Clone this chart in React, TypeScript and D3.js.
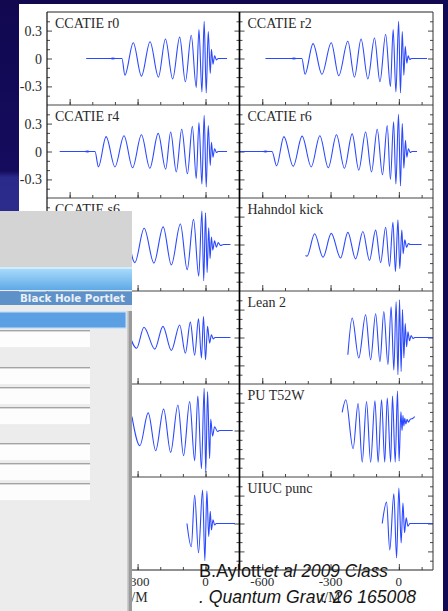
import React, { useEffect, useRef } from 'react';
import * as d3 from 'd3';

type Pt = [number, number];

// waveform extrema: [t/M, strain]
const ccatieR0: Pt[] = [[-527, 0], [-369, 0], [-356, -0.18], [-319, 0.17], [-283, -0.19], [-245, 0.18], [-208, -0.2], [-177, 0.21], [-145, -0.22], [-114, 0.23], [-89, -0.25], [-63, 0.25], [-41, -0.31], [-29, 0.31], [-16, -0.36], [-6, 0.4], [3, -0.37], [12, 0.29], [21, -0.16], [26, 0.1], [33, -0.06], [40, 0.03], [48, -0.015], [56, 0], [95, 0]];
const ccatieR2: Pt[] = [[-586, 0], [-426, 0], [-412, -0.17], [-377, 0.16], [-338, -0.17], [-297, 0.17], [-264, -0.185], [-224, 0.185], [-195, -0.2], [-166, 0.21], [-136, -0.22], [-107, 0.22], [-83, -0.25], [-58, 0.26], [-37, -0.3], [-25, 0.31], [-13, -0.36], [-1, 0.4], [7, -0.37], [15, 0.29], [22, -0.18], [28, 0.13], [35, -0.05], [41, 0.03], [48, -0.01], [56, 0], [124, 0]];
const ccatieR4: Pt[] = [[-644, 0], [-488, 0], [-473, -0.165], [-439, 0.16], [-400, -0.165], [-360, 0.17], [-322, -0.175], [-283, 0.18], [-246, -0.18], [-209, 0.195], [-176, -0.19], [-154, 0.21], [-129, -0.22], [-105, 0.24], [-80, -0.24], [-58, 0.27], [-41, -0.29], [-29, 0.31], [-16, -0.35], [-6, 0.39], [3, -0.38], [12, 0.28], [21, -0.15], [26, 0.1], [33, -0.06], [40, 0.03], [48, -0.01], [56, 0], [95, 0]];
const ccatieR6: Pt[] = [[-700, 0], [-557, 0], [-537, -0.155], [-505, 0.16], [-464, -0.16], [-425, 0.165], [-385, -0.165], [-347, 0.17], [-310, -0.175], [-274, 0.18], [-239, -0.18], [-205, 0.19], [-176, -0.2], [-146, 0.21], [-120, -0.22], [-95, 0.24], [-72, -0.25], [-51, 0.28], [-37, -0.3], [-23, 0.32], [-13, -0.35], [-1.5, 0.4], [7, -0.37], [15, 0.3], [22, -0.18], [29, 0.12], [35, -0.06], [42, 0.03], [50, -0.01], [58, 0], [80, 0]];
const ccatieS6: Pt[] = [[-345, 0.16], [-312, -0.195], [-271, 0.175], [-228, -0.2], [-187, 0.19], [-151, -0.22], [-111, 0.22], [-81, -0.27], [-53, 0.27], [-30, -0.34], [-16, 0.36], [-8, -0.39], [0, 0.34], [7, -0.3], [14, 0.18], [20, -0.15], [26, 0.08], [32, -0.06], [40, 0.04], [48, -0.03], [56, 0.02], [66, -0.01], [80, 0], [110, 0]];
const hahndolKick: Pt[] = [[-410, -0.118], [-403, -0.125], [-370, 0.115], [-333, -0.137], [-297, 0.12], [-256, -0.145], [-224, 0.13], [-190, -0.155], [-158, 0.14], [-129, -0.17], [-102, 0.155], [-80, -0.195], [-58, 0.185], [-41, -0.235], [-26, 0.24], [-15, -0.29], [-4, 0.265], [4, -0.26], [13, 0.155], [19, -0.1], [26, 0.05], [34, -0.03], [42, 0.01], [50, 0], [100, 0]];
const row4Left: Pt[] = [[-345, 0.1], [-304, -0.115], [-272, 0.11], [-224, -0.125], [-188, 0.12], [-151, -0.14], [-114, 0.135], [-89, -0.17], [-67, 0.165], [-48, -0.19], [-31, 0.2], [-18, -0.22], [-9, 0.225], [0, -0.24], [9, 0.12], [18, -0.06], [26, 0.03], [34, -0.015], [42, 0], [110, 0]];
const lean2: Pt[] = [[-224, -0.186], [-205, 0.21], [-176, -0.22], [-146, 0.245], [-124, -0.24], [-102, 0.255], [-83, -0.26], [-66, 0.28], [-48, -0.29], [-34, 0.33], [-22, -0.35], [-12, 0.385], [-4, -0.4], [3, 0.405], [10, -0.365], [16, 0.3], [22, -0.22], [28, 0.15], [34, -0.1], [40, 0.06], [47, -0.035], [54, 0.02], [62, -0.01], [70, 0], [150, 0]];
const row5Left: Pt[] = [[-325, 0.15], [-290, -0.163], [-253, 0.19], [-220, -0.217], [-185, 0.23], [-154, -0.235], [-122, 0.275], [-97, -0.27], [-70, 0.31], [-48, -0.325], [-34, 0.37], [-18, -0.41], [-6, 0.455], [1, -0.45], [9, 0.42], [18, -0.3], [23, 0.12], [31, -0.06], [40, 0.04], [53, -0.01], [62, 0], [120, 0]];
const puT52W: Pt[] = [[-249, 0.195], [-233, 0.33], [-201, -0.195], [-179, 0.29], [-161, -0.34], [-142, 0.31], [-124, -0.34], [-105, 0.32], [-91, -0.34], [-76, 0.33], [-62, -0.34], [-51, 0.35], [-36, -0.34], [-28, 0.37], [-16, -0.34], [-6, 0.425], [1, -0.33], [9, 0.2], [14, 0.0], [18, 0.16], [22, 0.05], [26, 0.13], [31, 0.07], [36, 0.12], [42, 0.09], [50, 0.12], [60, 0.13], [70, 0.15]];
const row6Left: Pt[] = [[-82, 0], [-63, -0.25], [-48, 0.305], [-31, -0.315], [-13, 0.36], [-3, -0.4], [6, 0.35], [14, -0.14], [21, 0.13], [26, -0.07], [33, 0.04], [40, -0.015], [48, 0], [130, 0]];
const uiucPunc: Pt[] = [[-73, 0], [-54, 0.23], [-40, -0.285], [-22, 0.32], [-10, -0.37], [0, 0.38], [10, -0.21], [18, 0.22], [25, -0.1], [32, 0.06], [40, -0.03], [48, 0], [150, 0]];

const waves = [ccatieR0, ccatieR2, ccatieR4, ccatieR6, ccatieS6, hahndolKick, row4Left, lean2, row5Left, puT52W, row6Left, uiucPunc];
const panelNames = ['CCATIE r0', 'CCATIE r2', 'CCATIE r4', 'CCATIE r6', 'CCATIE s6', 'Hahndol kick', '', 'Lean 2', '', 'PU T52W', '', 'UIUC punc'];
const junkT = [-409, -461, -522, -586];

const xMinor = [-600, -500, -400, -300, -200, -100, 0, 100];
const xMajor = [-600, -300, 0];
const xLabels = ['-600', '-300', '0'];
const yMinor = [-0.4, -0.2, -0.1, 0.1, 0.2, 0.4];
const yMajor = [-0.3, 0, 0.3];
const yLabels = ['-0.3', '0', '0.3'];

const serif = '"Liberation Serif", "Times New Roman", serif';

export default function App() {
  const ref = useRef<SVGSVGElement>(null);

  useEffect(() => {
    const svg = d3.select(ref.current);
    svg.selectAll('*').remove();

    const left = 47, mid = 239.5, right = 433, top = 12, rowH = 93;

    const defs = svg.append('defs');
    const bg = defs.append('linearGradient').attr('id', 'bg').attr('x1', 0).attr('y1', 0).attr('x2', 0).attr('y2', 1);
    bg.append('stop').attr('offset', 0).attr('stop-color', '#110850');
    bg.append('stop').attr('offset', 0.28).attr('stop-color', '#150c5e');
    bg.append('stop').attr('offset', 0.29).attr('stop-color', '#2a2a8a');
    bg.append('stop').attr('offset', 1).attr('stop-color', '#3a3fa0');
    const bar = defs.append('linearGradient').attr('id', 'bar').attr('x1', 0).attr('y1', 0).attr('x2', 0).attr('y2', 1);
    bar.append('stop').attr('offset', 0).attr('stop-color', '#a6dafb');
    bar.append('stop').attr('offset', 1).attr('stop-color', '#5fa9e6');

    // slide background + white figure
    svg.append('rect').attr('width', 448).attr('height', 611).attr('fill', 'url(#bg)');
    svg.append('rect').attr('x', 440).attr('width', 8).attr('height', 611).attr('fill', '#120a55');
    svg.append('rect').attr('x', 19).attr('y', 4).attr('width', 424).attr('height', 607).attr('fill', '#fff');

    waves.forEach((wave, i) => {
      const r = Math.floor(i / 2), c = i % 2;
      const x = d3.scaleLinear().domain([-700, 150]).range(c ? [mid, right] : [left, mid]);
      const y = d3.scaleLinear().domain([-0.5, 0.5]).range([top + rowH * (r + 1), top + rowH * r]);
      const g = svg.append('g');

      defs.append('clipPath').attr('id', `clip${i}`)
        .append('rect').attr('x', x(-700)).attr('y', y(0.5)).attr('width', x(150) - x(-700)).attr('height', y(-0.5) - y(0.5));

      // ticks pointing inward
      const tickStyle = (sel: any) => {
        sel.select('.domain').remove();
        sel.selectAll('line').attr('stroke', '#333').attr('stroke-width', 0.9);
      };
      g.append('g').attr('transform', `translate(0,${y(-0.5)})`)
        .call(d3.axisTop(x).tickValues(xMinor).tickSize(3).tickFormat(() => '')).call(tickStyle);
      g.append('g').attr('transform', `translate(0,${y(-0.5)})`)
        .call(d3.axisTop(x).tickValues(xMajor).tickSize(6).tickFormat(() => '')).call(tickStyle);
      g.append('g').attr('transform', `translate(${x(-700)},0)`)
        .call(d3.axisRight(y).tickValues(yMinor).tickSize(3).tickFormat(() => '')).call(tickStyle);
      g.append('g').attr('transform', `translate(${x(-700)},0)`)
        .call(d3.axisRight(y).tickValues(yMajor).tickSize(5).tickFormat(() => '')).call(tickStyle);
      g.append('g').attr('transform', `translate(${x(150)},0)`)
        .call(d3.axisLeft(y).tickValues(yMinor).tickSize(3).tickFormat(() => '')).call(tickStyle);
      g.append('g').attr('transform', `translate(${x(150)},0)`)
        .call(d3.axisLeft(y).tickValues(yMajor).tickSize(5).tickFormat(() => '')).call(tickStyle);

      const line = d3.line<Pt>().x(d => x(d[0])).y(d => y(d[1])).curve(d3.curveMonotoneX);
      g.append('path').datum(wave).attr('d', line).attr('clip-path', `url(#clip${i})`)
        .attr('fill', 'none').attr('stroke', '#2a48ff').attr('stroke-width', 1.1).attr('stroke-linejoin', 'round');

      if (i < junkT.length) {
        g.append('ellipse').attr('cx', x(junkT[i])).attr('cy', y(0)).attr('rx', 2.2).attr('ry', 1.1).attr('fill', '#2a48ff');
      }

      if (panelNames[i]) {
        g.append('text').attr('x', x(-700) + 8).attr('y', y(0.5) + 16).text(panelNames[i])
          .attr('font-family', serif).attr('font-size', 14).attr('fill', '#2a2a2a');
      }

      if (c === 0) {
        yMajor.forEach((v, k) => {
          g.append('text').attr('x', 42).attr('y', y(v) + 5).attr('text-anchor', 'end').text(yLabels[k])
            .attr('font-family', serif).attr('font-size', 14).attr('fill', '#2a2a2a');
        });
      }

      if (r === 5) {
        xMajor.forEach((v, k) => {
          g.append('text').attr('x', x(v)).attr('y', 586).attr('text-anchor', 'middle').text(xLabels[k])
            .attr('font-family', serif).attr('font-size', 13).attr('fill', '#2a2a2a');
        });
        g.append('text').attr('x', x(-300)).attr('y', 602).attr('text-anchor', 'middle').text('t/M')
          .attr('font-family', serif).attr('font-size', 14).attr('fill', '#2a2a2a');
      }
    });

    // frame lines
    for (let r = 0; r <= 6; r++) {
      svg.append('line').attr('x1', left).attr('x2', right).attr('y1', top + rowH * r).attr('y2', top + rowH * r)
        .attr('stroke', r === 0 || r === 6 ? '#222' : '#444').attr('stroke-width', 1);
    }
    svg.append('line').attr('x1', left).attr('x2', left).attr('y1', top).attr('y2', top + rowH * 6).attr('stroke', '#111').attr('stroke-width', 1.2);
    svg.append('line').attr('x1', mid).attr('x2', mid).attr('y1', top).attr('y2', top + rowH * 6).attr('stroke', '#000').attr('stroke-width', 1.7);
    svg.append('line').attr('x1', right).attr('x2', right).attr('y1', top).attr('y2', top + rowH * 6).attr('stroke', '#333').attr('stroke-width', 1);

    // screenshot of the portlet on top
    const p = svg.append('g');
    p.append('rect').attr('x', 0).attr('y', 211).attr('width', 132).attr('height', 56).attr('fill', '#d4d4d4');
    p.append('rect').attr('x', 0).attr('y', 267).attr('width', 132).attr('height', 2).attr('fill', '#d2ecfb');
    p.append('rect').attr('x', 0).attr('y', 269).attr('width', 132).attr('height', 21).attr('fill', 'url(#bar)');
    p.append('rect').attr('x', 0).attr('y', 290).attr('width', 132).attr('height', 1.5).attr('fill', '#e2eef8');
    p.append('rect').attr('x', 0).attr('y', 291.5).attr('width', 132).attr('height', 13.5).attr('fill', '#5f91c9');
    p.append('text').attr('x', 125).attr('y', 302).attr('text-anchor', 'end').text('Black Hole Portlet')
      .attr('font-family', '"DejaVu Sans", sans-serif').attr('font-weight', 'bold').attr('font-size', 10.5)
      .attr('fill', '#e9f0f8').attr('textLength', 105).attr('lengthAdjust', 'spacingAndGlyphs');
    p.append('rect').attr('x', 0).attr('y', 305).attr('width', 132).attr('height', 306).attr('fill', '#ececec');
    p.append('rect').attr('x', 0).attr('y', 311).attr('width', 127).attr('height', 18).attr('fill', '#cfe3f6');
    p.append('rect').attr('x', 0).attr('y', 312.5).attr('width', 125.5).attr('height', 15).attr('fill', '#5ba0e2');
    p.append('rect').attr('x', 127).attr('y', 311).attr('width', 1.5).attr('height', 300).attr('fill', '#cdcdcd');
    p.append('rect').attr('x', 128.5).attr('y', 311).attr('width', 3.5).attr('height', 300).attr('fill', '#9a9a9a');
    [330, 367, 387, 407, 443, 463, 483].forEach(fy => {
      p.append('rect').attr('x', 0).attr('y', fy).attr('width', 90).attr('height', 1.6).attr('fill', '#a4a4a4');
      p.append('rect').attr('x', 0).attr('y', fy + 1.6).attr('width', 90).attr('height', 15.5).attr('fill', '#fdfdfd');
    });

    // citation
    const sans = '"Liberation Sans", Arial, sans-serif';
    svg.append('text').attr('x', 199).attr('y', 577).text('B.Aylott')
      .attr('font-family', sans).attr('font-size', 18.5).attr('fill', '#161616')
      .attr('textLength', 62).attr('lengthAdjust', 'spacingAndGlyphs');
    svg.append('text').attr('x', 264).attr('y', 577).text('et al 2009 Class')
      .attr('font-family', sans).attr('font-style', 'italic').attr('font-size', 18.5).attr('fill', '#161616')
      .attr('textLength', 124).attr('lengthAdjust', 'spacingAndGlyphs');
    svg.append('text').attr('x', 199).attr('y', 603).text('. Quantum Grav. 26 165008')
      .attr('font-family', sans).attr('font-style', 'italic').attr('font-size', 19).attr('fill', '#161616')
      .attr('textLength', 217).attr('lengthAdjust', 'spacingAndGlyphs');
  }, []);

  return <svg ref={ref} width={448} height={611} style={{ position: 'absolute', left: 0, top: 0, display: 'block' }} />;
}
